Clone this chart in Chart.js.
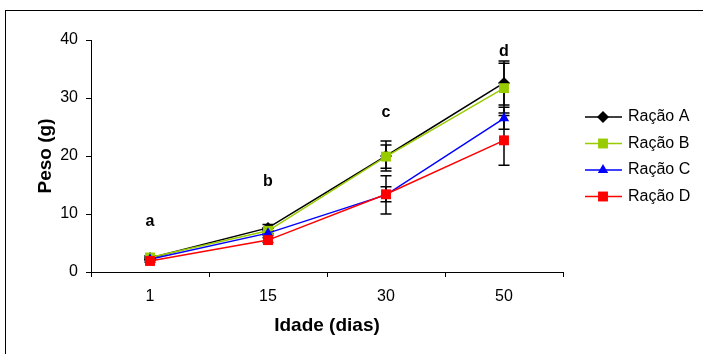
<!DOCTYPE html>
<html><head><meta charset="utf-8">
<script src="https://cdn.jsdelivr.net/npm/chart.js@4/dist/chart.umd.min.js"></script>
<style>
html,body{margin:0;padding:0;background:#fff;overflow:hidden}
#wrap{position:relative;width:703px;height:354px}
#frame{position:absolute;left:5px;top:10px;width:720px;height:400px;border:1px solid #000;box-sizing:border-box}
canvas{position:absolute;left:0;top:0}
</style></head>
<body><div id="wrap"><div id="frame"></div><canvas id="c" width="703" height="354"></canvas></div>
<script>
const categories = ['1', '15', '30', '50'];
const seriesNames = ['Ração A', 'Ração B', 'Ração C', 'Ração D'];
const racaoA = [2.4, 7.6, 20.0, 32.6];
const racaoB = [2.5, 7.1, 19.9, 31.7];
const racaoC = [2.2, 6.7, 13.3, 26.5];
const racaoD = [1.9, 5.5, 13.4, 22.7];
const errA = [0.3, 0.6, 2.6, 3.8];
const errB = [0.3, 0.5, 2.0, 4.3];
const errC = [0.2, 0.4, 3.3, 1.9];
const errD = [0.2, 0.4, 1.3, 4.3];
const letterLabels = ['a', 'b', 'c', 'd'];
const letterY = [8.7, 15.6, 27.5, 38.0];
const yTicks = [0, 10, 20, 30, 40];

const colors = ['#000000', '#99cc00', '#0000ff', '#ff0000'];
const styles = ['rectRot', 'rect', 'triangle', 'rect'];
const radii = [6, 7, 6, 7];
const values = [racaoA, racaoB, racaoC, racaoD];
const errors = [errA, errB, errC, errD];
const FONT = "'Liberation Sans', Arial, sans-serif";

const datasets = values.map((v, i) => ({
  label: seriesNames[i], data: v, errors: errors[i],
  borderColor: colors[i], backgroundColor: colors[i],
  pointBackgroundColor: colors[i], pointBorderColor: colors[i],
  pointStyle: styles[i], pointRadius: radii[i], pointBorderWidth: 0,
  borderWidth: 1.5, order: 4 - i, tension: 0
}));

const errorBars = {
  id: 'errorBars',
  beforeDatasetsDraw(chart) {
    const ctx = chart.ctx, y = chart.scales.y;
    ctx.save();
    ctx.strokeStyle = '#000'; ctx.lineWidth = 1.5;
    chart.data.datasets.forEach((ds, di) => {
      const meta = chart.getDatasetMeta(di);
      meta.data.forEach((pt, j) => {
        const e = ds.errors[j]; const x = pt.x;
        const yt = y.getPixelForValue(ds.data[j] + e);
        const yb = y.getPixelForValue(ds.data[j] - e);
        ctx.beginPath();
        ctx.moveTo(x, yt); ctx.lineTo(x, yb);
        ctx.moveTo(x - 5.5, yt); ctx.lineTo(x + 5.5, yt);
        ctx.moveTo(x - 5.5, yb); ctx.lineTo(x + 5.5, yb);
        ctx.stroke();
      });
    });
    ctx.restore();
  },
  afterDatasetsDraw(chart) {
    const ctx = chart.ctx, x = chart.scales.x, y = chart.scales.y;
    ctx.save();
    ctx.fillStyle = '#000';
    ctx.font = "bold 16px " + FONT;
    ctx.textAlign = 'center'; ctx.textBaseline = 'middle';
    letterLabels.forEach((l, i) => {
      ctx.fillText(l, x.getPixelForValue(i), y.getPixelForValue(letterY[i]));
    });
    ctx.restore();
  }
};

const customLegend = {
  id: 'customLegend',
  afterDraw(chart) {
    const ctx = chart.ctx;
    ctx.save();
    chart.data.datasets.forEach((ds, i) => {
      const yy = 117 + i * 26.5;
      ctx.strokeStyle = ds.borderColor; ctx.lineWidth = 1.5;
      ctx.beginPath(); ctx.moveTo(585, yy); ctx.lineTo(622, yy); ctx.stroke();
      ctx.fillStyle = ds.backgroundColor;
      Chart.helpers.drawPoint(ctx, {pointStyle: ds.pointStyle, radius: ds.pointRadius, borderWidth: 0, rotation: 0}, 603, yy);
      ctx.fillStyle = '#000';
      ctx.font = "16px " + FONT;
      ctx.textAlign = 'left'; ctx.textBaseline = 'middle';
      ctx.fillText(ds.label, 628, yy);
    });
    ctx.restore();
  }
};

new Chart(document.getElementById('c'), {
  type: 'line',
  data: { labels: categories, datasets },
  plugins: [errorBars, customLegend],
  options: {
    responsive: false, animation: false,
    layout: { padding: { left: 30, top: 40, right: 140, bottom: 13 } },
    plugins: { legend: { display: false }, tooltip: { enabled: false } },
    scales: {
      x: {
        type: 'category', offset: true,
        grid: { display: true, offset: true, drawOnChartArea: false, tickLength: 5, color: '#000', lineWidth: 1 },
        border: { display: true, color: '#000', width: 1 },
        ticks: { color: '#000', font: { family: FONT, size: 16 }, padding: 10 },
        title: { display: true, text: 'Idade (dias)', color: '#000', font: { family: FONT, size: 19, weight: 'bold' }, padding: { top: 4, bottom: 4 } },
        afterFit(s) { s.height = 69; }
      },
      y: {
        min: 0, max: 40,
        afterBuildTicks(s) { s.ticks = yTicks.map(v => ({ value: v })); },
        grid: { display: true, drawOnChartArea: false, tickLength: 5, color: '#000', lineWidth: 1 },
        border: { display: true, color: '#000', width: 1 },
        ticks: { color: '#000', font: { family: FONT, size: 16 }, padding: 8 },
        title: { display: true, text: 'Peso (g)', color: '#000', font: { family: FONT, size: 19, weight: 'bold' }, padding: { top: 4, bottom: 4 } },
        afterFit(s) { s.width = 61; }
      }
    }
  }
});
</script></body></html>
